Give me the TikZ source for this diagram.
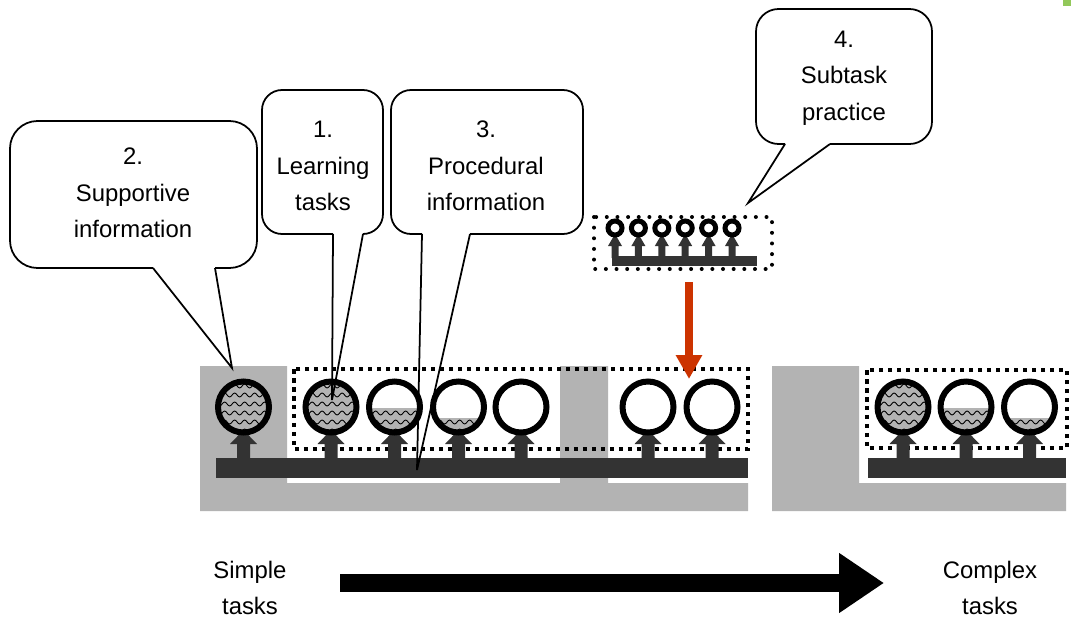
\documentclass[tikz,border=0pt]{standalone}
\usepackage{fontspec}
\setmainfont{Liberation Sans}
\usepackage{xcolor}
\definecolor{shadegray}{RGB}{179,179,179}
\definecolor{bardark}{RGB}{51,51,51}
\definecolor{rustred}{RGB}{204,51,0}
\definecolor{cornergreen}{RGB}{146,200,90}
\usepackage{tikz}
\usetikzlibrary{arrows.meta,decorations.pathmorphing}

\begin{document}
\begin{tikzpicture}[x=0.02cm, y=-0.02cm,
    bubble/.style={line width=1pt, rounded corners=0.4cm},
    tail/.style={line width=1pt},
    caption/.style={align=center, inner sep=0pt, font=\fontsize{13.6}{20.8}\selectfont},
    ring/.style={line width=0.12cm},
    smallring/.style={line width=0.1cm},
    wave/.style={decorate, decoration={snake, segment length=0.2cm, amplitude=0.04cm}, line width=0.5pt},
    squaredots/.style={line width=0.09cm, dash pattern=on 0.09cm off 0.09cm},
    rounddots/.style={line width=0.08cm, line cap=round, dash pattern=on 0pt off 0.213cm}]
    \useasboundingbox (0,0) rectangle (1071,619);
    \fill[cornergreen] (1063,0) rectangle (1071,6);

    \fill[shadegray] (200,366) -- (287,366) -- (287,483) -- (560,483) -- (560,366) -- (608,366)
        -- (608,483) -- (748,483) -- (748,511) -- (200,511) -- cycle;
    \fill[shadegray] (772,366) -- (859,366) -- (859,483) -- (1066,483) -- (1066,511) -- (772,511) -- cycle;

    \draw[squaredots] (294,369) rectangle (748,449);
    \draw[squaredots] (867,370) rectangle (1067,448);
    \draw[rounddots] (594,217) rectangle (772,269);

    \fill[bardark] (216,458) rectangle (748,478);
    \fill[bardark] (868,458) rectangle (1066,478);
    \fill[bardark] (612,256) rectangle (757,266);
    \foreach \cx in {243.5,331,394.5,458.5,521,648,712,903,966,1029.5}
        \fill[bardark] (\cx-6.5,460) -- (\cx-6.5,444) -- (\cx-13.5,444) -- (\cx,430)
            -- (\cx+13.5,444) -- (\cx+6.5,444) -- (\cx+6.5,460) -- cycle;
    \foreach \cx in {615,638.4,661.8,685.2,708.6,732}
        \fill[bardark] (\cx-3.5,258) -- (\cx-3.5,246) -- (\cx-7,246) -- (\cx,234)
            -- (\cx+7,246) -- (\cx+3.5,246) -- (\cx+3.5,258) -- cycle;

    \foreach \cx/\lvl in {243.5/370,331/370,394.5/408,458.5/418,903/370,966/408,1029.5/418} {
        \begin{scope}
            \clip (\cx,407) circle (0.47cm);
            \clip (\cx-30,\lvl) rectangle (\cx+30,440);
            \fill[shadegray] (\cx-30,\lvl) rectangle (\cx+30,440);
            \foreach \yy in {386,395,...,431} \draw[wave] (\cx-32,\yy) -- (\cx+32,\yy);
        \end{scope}
    }
    \foreach \cx in {243.5,331,394.5,458.5,521,648,712,903,966,1029.5}
        \draw[ring] (\cx,407) circle (0.51cm);
    \foreach \cx in {615,638.4,661.8,685.2,708.6,732}
        \draw[smallring, fill=white] (\cx,228) circle (0.14cm);

    \coordinate (droptop) at (689,282);
    \coordinate (droptip) at (689,379);
    \draw[rustred, line width=0.16cm, -{Triangle[width=0.5cm,length=0.48cm]}] (droptop) -- (droptip);

    \coordinate (tipsupp) at (232,368);
    \coordinate (tiplearn) at (332,400);
    \coordinate (tipproc) at (417,470);
    \coordinate (tipsub) at (748,203);

    \draw[bubble, rounded corners=0.55cm] (215,268) -- (257,268) -- (257,121) -- (10,121) -- (10,268) -- (153,268);
    \draw[tail] (153,268) -- (tipsupp) -- (215,268);
    \node[caption] (supp) at (133,193) {2.\\Supportive\\information};

    \draw[bubble] (363,234) -- (383,234) -- (383,90) -- (262,90) -- (262,234) -- (333,234);
    \draw[tail] (333,234) -- (tiplearn) -- (363,234);
    \node[caption] (learn) at (323,166) {1.\\Learning\\tasks};

    \draw[bubble] (470,234) -- (583,234) -- (583,90) -- (391,90) -- (391,234) -- (422,234);
    \draw[tail] (422,234) -- (tipproc) -- (470,234);
    \node[caption] (proc) at (486,166) {3.\\Procedural\\information};

    \draw[bubble, rounded corners=0.45cm] (830,144) -- (932,144) -- (932,9) -- (756,9) -- (756,144) -- (785,144);
    \draw[tail] (785,144) -- (tipsub) -- (830,144);
    \node[caption] (sub) at (844,78) {4.\\Subtask\\practice};

    \node[caption] (simple) at (250,588) {Simple\\tasks};
    \node[caption] (complex) at (990,588) {Complex\\tasks};
    \coordinate (gofrom) at (340,583);
    \coordinate (goto) at (884,583);
    \draw[line width=0.36cm, -{Triangle[width=1.14cm,length=0.9cm]}] (gofrom) -- (goto);
\end{tikzpicture}
\end{document}
